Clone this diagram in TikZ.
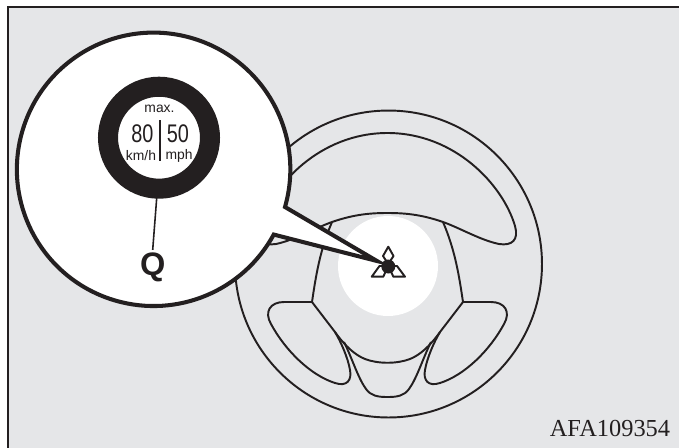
\documentclass[tikz,border=0pt]{standalone}
\usepackage{fontspec}
\setmainfont{Liberation Serif}
\setsansfont{Liberation Sans}
\newfontfamily\narrowsans[FakeStretch=0.78]{Liberation Sans}
\usetikzlibrary{positioning, calc}
\definecolor{panelgray}{HTML}{E5E6E8}
\definecolor{inkblack}{HTML}{231F20}
\tikzset{
    wheel/.style={draw=inkblack, line width=1.1pt},
    bubble/.style={draw=inkblack, line width=2.3pt, fill=white, miter limit=10},
    speed/.style={font=\narrowsans\fontsize{14.5}{14.5}\selectfont, inner sep=0pt, text=inkblack},
    unitlbl/.style={font=\sffamily\fontsize{7.9}{7.9}\selectfont, inner sep=0pt, text=inkblack},
    logopart/.style={draw=inkblack, line width=1.1pt, fill=white, line join=round},
}

\begin{document}
\begin{tikzpicture}[x=0.02cm, y=-0.02cm]
        \useasboundingbox (0,0) rectangle (679,447);

        % Panel
        \fill[panelgray, draw=inkblack, line width=1.2pt] (8,7) rectangle (700,470);

        % Steering wheel
        \node[circle, draw=inkblack, line width=1.1pt, minimum size=6.14cm, inner sep=0pt] (rim) at (388.5,264) {};
        \draw[wheel] (387.5,133)
            .. controls (455,133) and (503,185) .. (515,226)
            .. controls (519,240) and (512,246) .. (499,244)
            .. controls (480,240) and (460,228) .. (443,222)
            .. controls (420,214) and (403,213) .. (387.5,213)
            .. controls (372,213) and (355,214) .. (332,222)
            .. controls (315,228) and (295,240) .. (276,244)
            .. controls (263,246) and (256,240) .. (260,226)
            .. controls (272,185) and (320,133) .. (387.5,133) -- cycle;

        % Airbag cover
        \node[circle, fill=white, minimum size=2cm, inner sep=0pt] (cover) at (388,266) {};

        % Hub
        \draw[wheel] (332,222) .. controls (320,250) and (316,275) .. (312,302)
            -- (335,332)
            .. controls (345,346) and (355,355) .. (365,359)
            .. controls (378,364) and (397,364) .. (410,359)
            .. controls (420,355) and (430,346) .. (440,332)
            -- (463,302)
            .. controls (459,275) and (455,250) .. (443,222);

        % Spoke openings
        \draw[wheel] (312,302) -- (284,302)
            .. controls (270,302) and (264,312) .. (271,324)
            .. controls (285,350) and (310,375) .. (335,383)
            .. controls (347,387) and (352,380) .. (350,370)
            .. controls (348,358) and (341,342) .. (335,332);
        \draw[wheel] (463,302) -- (491,302)
            .. controls (505,302) and (511,312) .. (504,324)
            .. controls (490,350) and (465,375) .. (440,383)
            .. controls (428,387) and (423,380) .. (425,370)
            .. controls (427,358) and (434,342) .. (440,332);
        \draw[wheel] (344,342)
            .. controls (352,358) and (358,378) .. (366,389)
            .. controls (371,396) and (378,397) .. (387.5,397)
            .. controls (397,397) and (404,396) .. (409,389)
            .. controls (417,378) and (423,358) .. (431,342);

        % Logo
        \draw[logopart] (388.3,246.7) -- (393.5,256) -- (388.3,264) -- (383,256) -- cycle;
        \draw[logopart] (371.7,276.7) -- (379.5,266) -- (388,266) -- (383.3,276.7) -- cycle;
        \draw[logopart] (405,276.7) -- (397,266) -- (388.6,266) -- (393.3,276.7) -- cycle;
        \node[circle, fill=inkblack, minimum size=0.28cm, inner sep=0pt] (badge) at (388.3,266.5) {};

        % Callout
        \draw[bubble] (285,207) arc[start angle=16, end angle=-331.5, radius=136.7]
            -- (377,261) -- cycle;

        % Indicator
        \node[circle, draw=inkblack, line width=20pt*0.57, fill=white, minimum size=2.04cm, inner sep=0pt] (ring) at (159,137.7) {};
        \node[speed] (kmh) at (142.5,133.5) {80};
        \node[speed] (mph) at (178,133.5) {50};
        \node[unitlbl] (maxlbl) at (159.5,109) {max.};
        \node[unitlbl] (kmhlbl) at (141,156) {km/h};
        \node[unitlbl] (mphlbl) at (179,156) {mph};
        \coordinate (bartop) at (160.3,120);
        \coordinate (barend) at (160.3,161);
        \draw[inkblack, line width=1.1pt] (bartop) -- (barend);

        % Leader
        \node[font=\sffamily\bfseries\fontsize{18.5}{18.5}\selectfont, inner sep=0pt, outer sep=1.5pt, text=inkblack] (qlbl) at (152.7,267) {Q};
        \coordinate (leadtop) at (156.7,198);
        \draw[inkblack, line width=0.9pt] (leadtop) -- (qlbl.north);

        \node[font=\fontsize{13.9}{13.9}\selectfont, inner sep=0pt, text=inkblack] (code) at (610,428) {AFA109354};
    \end{tikzpicture}
\end{document}
